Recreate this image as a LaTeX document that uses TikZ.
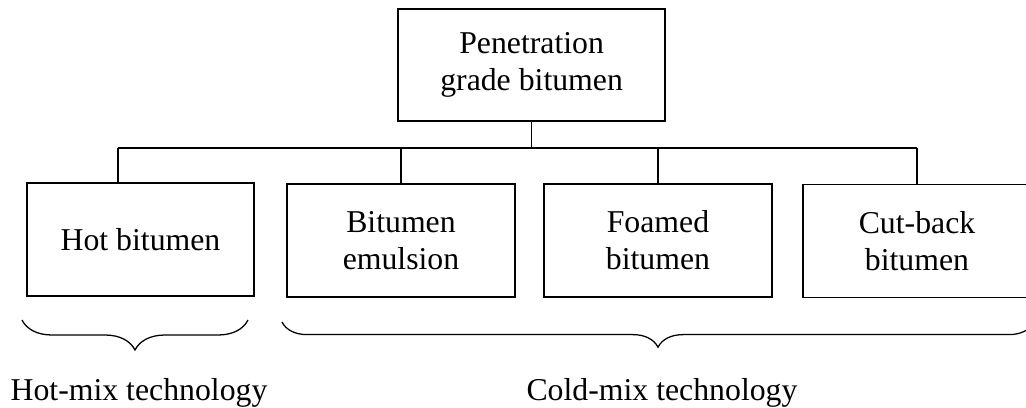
\documentclass[tikz,border=0pt]{standalone}
\usepackage{fontspec}
\setmainfont{Liberation Serif}
\usetikzlibrary{decorations.pathreplacing}
\begin{document}
\begin{tikzpicture}[line width=0.9pt,
    font=\fontsize{22.6}{26.2}\selectfont,
    kasten/.style={draw=black, line width=1pt, shape=rectangle, align=center, minimum width=5.7cm, minimum height=2.825cm, inner sep=0pt},
    klammer/.style={decorate, decoration={brace, mirror, amplitude=#1}},
    klammer/.default=0.75cm
]
\useasboundingbox (0,0) rectangle (25.65,-10.175);
% --- Ausgangsstoff ---
\node[kasten, minimum width=6.675cm, minimum height=2.8cm] (pen) at (13.29,-1.625) {Penetration\\grade bitumen};
% --- Bindemittelformen ---
\node[kasten, minimum width=5.675cm] (hot) at (3.5125,-5.9875) {Hot bitumen};
\node[kasten] (emul) at (10.025,-6.0125) {Bitumen\\emulsion};
\node[kasten] (foam) at (16.45,-6.0125) {Foamed\\bitumen};
\node[kasten] (cut) at (22.925,-6.025) {Cut-back\\bitumen};
% --- Verteilerleitung ---
\coordinate (bus) at (2.95,-3.7);  % linkes Ende, ueber Hot bitumen
\draw (pen.south) -- (pen.south |- bus);
\draw (bus) -- (bus -| cut.north);
\draw (bus) -- (bus |- hot.north);
\draw (emul.north) -- (emul.north |- bus);
\draw (foam.north) -- (foam.north |- bus);
\draw (cut.north) -- (cut.north |- bus);
% --- Klammern und Technologien ---
\draw[klammer] (0.55,-8.0) -- (6.2,-8.0) coordinate[midway] (hotmid);
\draw[klammer=0.63cm] (7.05,-8.05) -- (25.85,-8.05) coordinate[midway] (coldmid);
\node[anchor=base] (hotmix) at (3.475,-10.0) {Hot-mix technology};
\node[anchor=base] (coldmix) at (16.55,-10.0) {Cold-mix technology};
\end{tikzpicture}
\end{document}
